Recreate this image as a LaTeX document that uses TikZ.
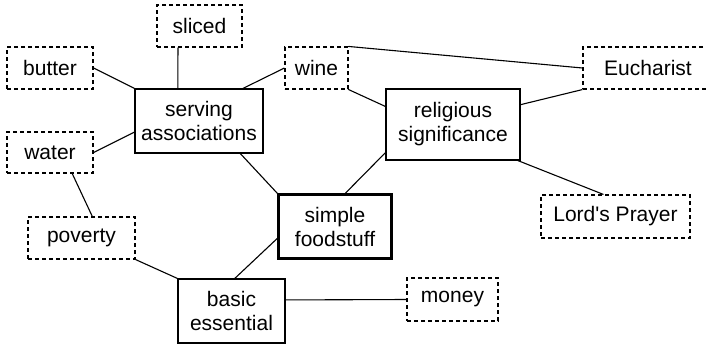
\documentclass[tikz,border=0pt]{standalone}
\usepackage{fontspec}
\setmainfont{Liberation Sans}
\usetikzlibrary{calc}
\begin{document}
\begin{tikzpicture}[x=1pt,y=-1pt,
  box/.style={draw,line width=1.1pt,inner sep=0pt,align=center,font=\fontsize{21}{24}\selectfont},
  solidbox/.style={box},
  dashbox/.style={box,dash pattern=on 4pt off 3pt},
  corebox/.style={box,line width=2.6pt},
  link/.style={line width=1.1pt}]
\clip (0,0) rectangle (706,346);
\fill[white] (0,0) rectangle (706,346);

% concept nodes
\node[dashbox,minimum width=85pt,minimum height=42pt] (sliced) at (199.5,26) {sliced};
\node[dashbox,minimum width=86pt,minimum height=42pt] (butter) at (50,68) {butter};
\node[solidbox,minimum width=128pt,minimum height=64pt] (serving) at (199,121) {serving\\associations};
\node[dashbox,minimum width=63pt,minimum height=42pt] (wine) at (316.5,68) {wine};
\node[dashbox,minimum width=130pt,minimum height=42pt] (eucharist) at (648,68) {Eucharist};
\node[solidbox,minimum width=134pt,minimum height=71pt] (religious) at (453,124.5) {religious\\significance};
\node[dashbox,minimum width=86pt,minimum height=41pt] (water) at (50,152.5) {water};
\node[corebox,minimum width=113pt,minimum height=64pt] (simple) at (335,226.5) {simple\\foodstuff};
\node[dashbox,minimum width=149pt,minimum height=43pt] (lords) at (615.5,216.5) {Lord\textquotesingle s Prayer};
\node[dashbox,minimum width=107pt,minimum height=42pt] (poverty) at (81.5,238) {poverty};
\node[solidbox,minimum width=107pt,minimum height=64pt] (basic) at (231.5,311) {basic\\essential};
\node[dashbox,minimum width=91pt,minimum height=43pt] (money) at (452.5,299.5) {money};

% connectors
\draw[link] ($(sliced.south west)!0.25!(sliced.south east)$) -- ($(serving.north west)!0.336!(serving.north east)$);
\draw[link] (butter.east) -- (serving.north west);
\draw[link] (wine.west) -- ($(serving.north west)!0.84!(serving.north east)$);
\draw[link] (water.east) -- ($(serving.north west)!0.67!(serving.south west)$);
\draw[link] ($(water.south west)!0.755!(water.south east)$) -- ($(poverty.north west)!0.6!(poverty.north east)$);
\draw[link] (wine.north east) -- (eucharist.west);
\draw[link] (wine.south east) -- ($(religious.north west)!0.25!(religious.south west)$);
\draw[link] ($(religious.north east)!0.225!(religious.south east)$) -- (eucharist.south west);
\draw[link] ($(religious.north west)!0.89!(religious.south west)$) -- ($(simple.north west)!0.59!(simple.north east)$);
\draw[link] ($(religious.south west)!0.98!(religious.south east)$) -- ($(lords.north west)!0.42!(lords.north east)$);
\draw[link] ($(serving.south west)!0.82!(serving.south east)$) -- (simple.north west);
\draw[link] ($(simple.north west)!0.68!(simple.south west)$) -- ($(basic.north west)!0.53!(basic.north east)$);
\draw[link] (poverty.south east) -- (basic.north west);
\draw[link] ($(basic.north east)!0.33!(basic.south east)$) -- (money.west);
\end{tikzpicture}
\end{document}
